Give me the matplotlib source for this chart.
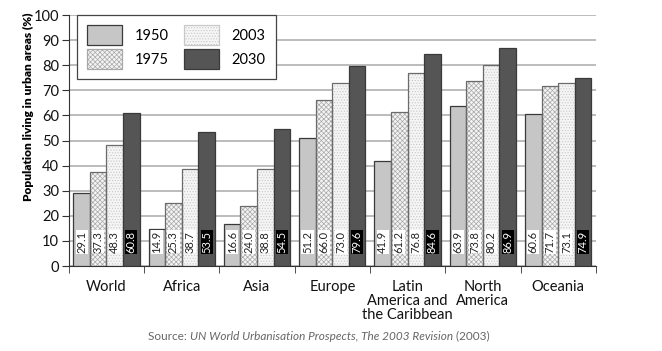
import numpy as np
import matplotlib.pyplot as plt

plt.rcParams['font.family'] = ['Lato', 'DejaVu Sans']
plt.rcParams['hatch.linewidth'] = 0.5

# ── Data ──────────────────────────────────────────────────────────────────────
regions = ['World', 'Africa', 'Asia', 'Europe',
           'Latin\nAmerica and\nthe Caribbean', 'North\nAmerica', 'Oceania']
years = ['1950', '1975', '2003', '2030']
v1950 = [29.1, 14.9, 16.6, 51.2, 41.9, 63.9, 60.6]
v1975 = [37.3, 25.3, 24.0, 66.0, 61.2, 73.8, 71.7]
v2003 = [48.3, 38.7, 38.8, 73.0, 76.8, 80.2, 73.1]
v2030 = [60.8, 53.5, 54.5, 79.6, 84.6, 86.9, 74.9]
yticks = [0, 10, 20, 30, 40, 50, 60, 70, 80, 90, 100]

series = [v1950, v1975, v2003, v2030]
# fill, hatch, hatch colour
styles = [('#c6c6c6', None, None),
          ('#f4f4f4', 'xxxxxxx', '#a8a8a8'),
          ('#f5f5f5', '......', '#c8c8c8'),
          ('#555555', None, None)]

fig = plt.figure(figsize=(6.62, 3.51), dpi=100)
ax = fig.add_axes([0.104, 0.242, 0.796, 0.715])

x = np.arange(len(regions)) + 0.5
w = 0.22
for i, (vals, (fc, hatch, hc)) in enumerate(zip(series, styles)):
    xs = x + (i - 1.5) * w
    if hatch:
        ax.bar(xs, vals, w, color=fc, edgecolor=hc, hatch=hatch, linewidth=0, zorder=2)
        ax.bar(xs, vals, w, fill=False, edgecolor='#6a6a6a', linewidth=0.9, zorder=3)
    else:
        ax.bar(xs, vals, w, color=fc, edgecolor='#3a3a3a', linewidth=0.9, zorder=3)
    for xi, v in zip(xs, vals):
        dark = (i == 3)
        ax.text(xi, 9.6, f'{v:.1f}', rotation=90, ha='center', va='center',
                fontsize=8, color='white' if dark else '#222222', zorder=4,
                bbox=dict(boxstyle='square,pad=0.05',
                          fc='black' if dark else 'white', ec='none'))

# legend handles
handles = []
for (fc, hatch, hc), yr in zip(styles, years):
    if hatch:
        h = plt.Rectangle((0, 0), 1, 1, facecolor=fc, edgecolor=hc, hatch=hatch, linewidth=0.9)
    else:
        h = plt.Rectangle((0, 0), 1, 1, facecolor=fc, edgecolor='#3a3a3a', linewidth=0.9)
    handles.append(h)
leg = ax.legend(handles, years, ncol=2, loc='upper left', bbox_to_anchor=(0.015, 1.0),
                borderaxespad=0, fontsize=10.5, handlelength=2.4, handleheight=1.7,
                handletextpad=0.9, columnspacing=1.0, labelspacing=0.3,
                borderpad=0.7, fancybox=False, framealpha=1, edgecolor='#444444')
leg.get_frame().set_linewidth(0.9)
leg.set_zorder(10)

ax.set_xlim(0, len(regions))
ax.set_ylim(0, 100)
ax.set_yticks(yticks)
ax.set_xticks(x)
ax.set_xticklabels(regions, fontsize=10.5, color='#111111', linespacing=1.0)
ax.set_xticks(np.arange(len(regions) + 1), minor=True)
ax.tick_params(axis='x', which='major', length=0, pad=10)
ax.tick_params(axis='x', which='minor', length=5, color='#333333', direction='out')
ax.tick_params(axis='y', labelsize=10.5, length=5, color='#333333', labelcolor='#111111', pad=2)
ax.grid(axis='y', color='#aaaaaa', linewidth=1.1, zorder=0)
ax.set_axisbelow(True)
for s in ['top', 'right']:
    ax.spines[s].set_visible(False)
for s in ['left', 'bottom']:
    ax.spines[s].set_color('#333333')
ax.set_ylabel('Population living in urban areas (%)', fontsize=8.6, fontweight='heavy')
ax.yaxis.set_label_coords(-0.066, 0.633)

# source line: normal / italic / normal pieces
fig.canvas.draw()
r = fig.canvas.get_renderer()
xpos = 148 / 662
ypos = 1 - 336 / 351
parts = [('Source: ', 'normal'),
         ('UN World Urbanisation Prospects, The 2003 Revision', 'italic'),
         (' (2003)', 'normal')]
for txt, st in parts:
    t = fig.text(xpos, ypos, txt, fontsize=8.5, style=st, color='#666666', va='center')
    bb = t.get_window_extent(r)
    xpos += bb.width / fig.bbox.width

fig.savefig('out.png', dpi=100)
